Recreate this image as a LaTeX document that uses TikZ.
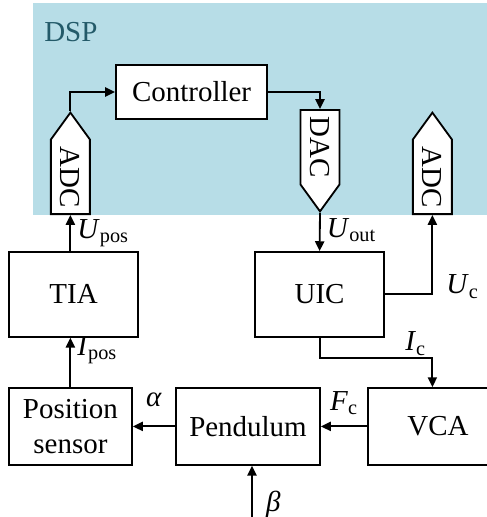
\documentclass[tikz,border=0pt]{standalone}
\usepackage{fontspec}
\setmainfont{Liberation Serif}
\usepackage{graphicx}
\usetikzlibrary{arrows.meta,shapes.symbols}
\definecolor{dspfill}{RGB}{183,221,231}
\definecolor{dsptext}{RGB}{35,90,105}
\newcommand{\quant}[2]{\textit{#1}\textsubscript{#2}}

\begin{document}
\begin{tikzpicture}[x=1cm,y=1cm,font=\fontsize{20.6}{25}\selectfont,block/.style={rectangle,draw,line width=1.3pt,fill=white,inner sep=0pt,align=center},conv/.style={signal,draw,line width=1.3pt,fill=white,inner sep=0pt,minimum width=0.975cm,minimum height=2.2cm,signal pointer angle=72},link/.style={line width=1.3pt,-{Triangle[length=7pt,width=6.5pt]}}]
\path[use as bounding box,clip] (0,0) rectangle (12.175,-12.925);
% DSP area
\fill[dspfill] (0.825,-0.075) rectangle (12.4,-5.375);
\node[text=dsptext,anchor=base west,inner sep=0pt] (dsp) at (1.1,-1.03) {DSP};
\coordinate (beta) at (6.3,-12.925);
\node[block,minimum width=3.78cm,minimum height=1.35cm] (ctrl) at (4.79,-2.3) {Controller};
\node[conv,signal to=north,anchor=south] (adcl) at (1.76,-5.375) {\rotatebox{-90}{ADC}};
\node[conv,signal to=south,anchor=north] (dac) at (8.0,-2.725) {\rotatebox{-90}{DAC}};
\node[conv,signal to=north,anchor=south] (adcr) at (10.81,-5.375) {\rotatebox{-90}{ADC}};
\node[block,minimum width=3.22cm,minimum height=2.12cm] (tia) at (1.84,-7.36) {TIA};
\node[block,minimum width=3.22cm,minimum height=2.12cm] (uic) at (7.99,-7.36) {UIC};
\node[block,minimum width=3.08cm,minimum height=1.92cm] (pos) at (1.76,-10.66) {Position\\sensor};
\node[block,minimum width=3.6cm,minimum height=1.92cm] (pend) at (6.2,-10.66) {Pendulum};
\node[block,minimum width=3.5cm,minimum height=1.92cm] (vca) at (10.95,-10.66) {VCA};
% signal paths
\draw[link] (adcl.north) |- (ctrl.west);
\draw[link] (ctrl.east) -| (dac.north);
\draw[link] (adcl.south |- tia.north) -- node[right=1pt,pos=0.5] {\quant{U}{pos}} (adcl.south);
\draw[link] (dac.south) -- node[right=1pt,pos=0.45] {\quant{U}{out}} (uic.north);
\draw[link] (uic.east) -| node[right=6pt,pos=0.55] {\quant{U}{c}} (adcr.south);
\draw[link] (uic.south) -- ++(0,-0.5) -| node[pos=0.5,anchor=south east,inner sep=1pt,xshift=-3pt] {\quant{I}{c}} (vca.north -| adcr.south);
\draw[link] (pos.north) -- node[right=1pt,pos=0.75] {\quant{I}{pos}} (pos.north |- tia.south);
\draw[link] (pend.west) -- node[above=10pt] {\textit{α}} (pos.east);
\draw[link] (vca.west) -- node[above=4pt] {\quant{F}{c}} (pend.east);
\draw[link] (beta) -- node[right=6pt,pos=0.25] {\textit{β}} (beta |- pend.south);
\end{tikzpicture}
\end{document}
